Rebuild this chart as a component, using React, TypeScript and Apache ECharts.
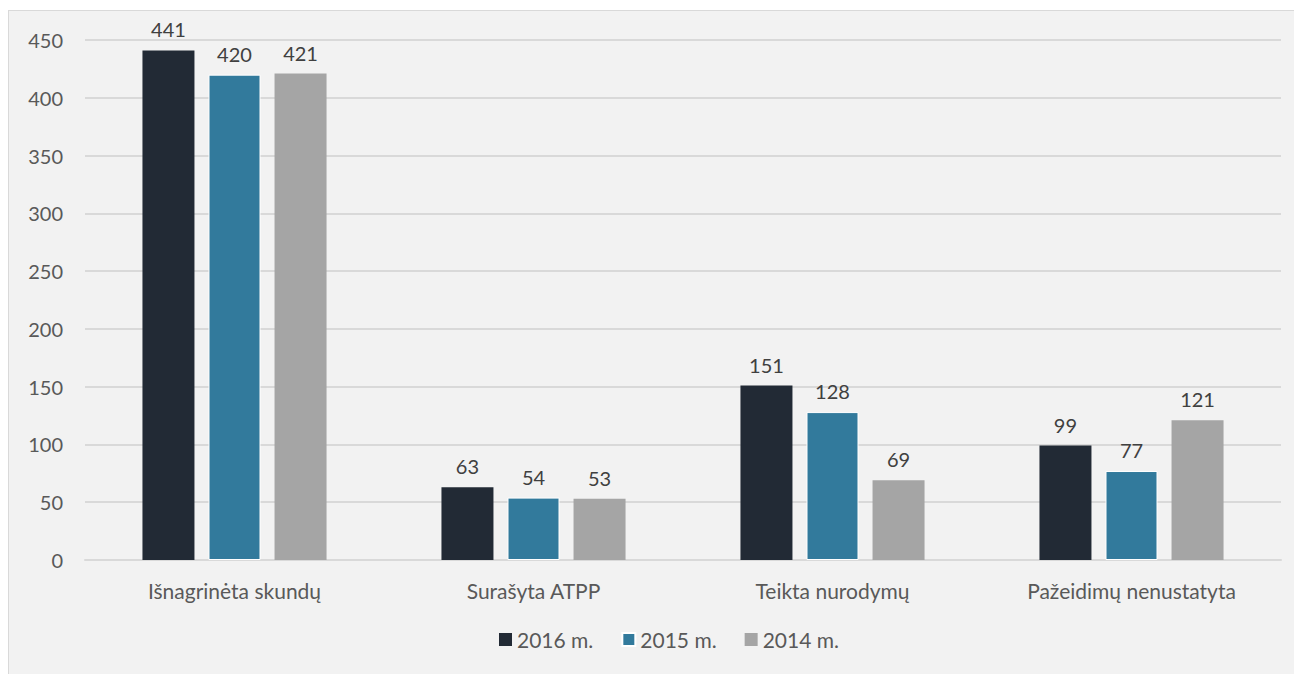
import React, { useEffect, useRef } from "react";
import * as echarts from "echarts";

const categories = ["Išnagrinėta skundų", "Surašyta ATPP", "Teikta nurodymų", "Pažeidimų nenustatyta"];
const seriesNames = ["2016 m.", "2015 m.", "2014 m."];
const values2016 = [441, 63, 151, 99];
const values2015 = [420, 54, 128, 77];
const values2014 = [421, 53, 69, 121];
const colors = ["#222a35", "#327a9c", "#a5a5a5"];

export default function App() {
  const ref = useRef<HTMLDivElement>(null);
  useEffect(() => {
    if (!ref.current) return;
    const chart = echarts.init(ref.current, undefined, { renderer: "svg" });
    const font = "Lato, 'Open Sans', sans-serif";
    const data = [values2016, values2015, values2014];
    chart.setOption({
      animation: false,
      backgroundColor: "#f2f2f2",
      textStyle: { fontFamily: font },
      grid: { left: 76, right: 20, top: 29, bottom: 114, containLabel: false },
      legend: {
        bottom: 19,
        left: 485,
        itemWidth: 13,
        itemHeight: 13,
        itemGap: 28,
        itemTextGap: 7,
        icon: "rect",
        textStyle: { color: "#595959", fontSize: 21, fontFamily: font },
        data: seriesNames,
      },
      xAxis: {
        type: "category",
        data: categories,
        axisLine: { show: true, lineStyle: { color: "#d9d9d9", width: 2 } },
        axisTick: { show: false },
        axisLabel: { color: "#595959", fontSize: 21, margin: 20, fontFamily: font },
      },
      yAxis: {
        type: "value",
        min: 0,
        max: 450,
        interval: 50,
        axisLine: { show: false },
        axisTick: { show: false },
        axisLabel: { color: "#595959", fontSize: 20, margin: 22, fontFamily: font },
        splitLine: { lineStyle: { color: "#d9d9d9", width: 2 } },
      },
      series: seriesNames.map((name, i) => ({
        name,
        type: "bar",
        data: data[i],
        barWidth: 52,
        barGap: "27%",
        itemStyle: { color: colors[i], borderColor: i === 1 ? "#ffffff" : "transparent", borderWidth: i === 1 ? 1 : 0 },
        label: {
          show: true,
          position: "top",
          distance: 11,
          color: "#404040",
          fontSize: 20,
          fontFamily: font,
        },
      })),
    });
    return () => chart.dispose();
  }, []);
  return (
    <div
      ref={ref}
      style={{
        width: 1292,
        height: 663,
        marginTop: 2,
        border: "1px solid #d9d9d9",
        borderRight: "none",
        borderBottom: "none",
      }}
    />
  );
}
